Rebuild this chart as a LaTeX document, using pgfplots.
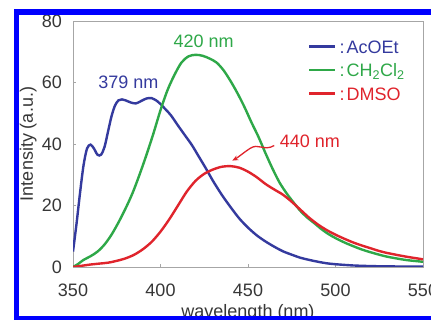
\documentclass[border=0pt]{standalone}
\usepackage{fontspec}
\setmainfont{Liberation Sans}
\usepackage{pgfplots}
\pgfplotsset{compat=1.18}
\usetikzlibrary{arrows.meta}
\definecolor{cblue}{RGB}{52,58,158}
\definecolor{cgreen}{RGB}{46,168,72}
\definecolor{cred}{RGB}{224,36,44}
\definecolor{frameblue}{RGB}{0,0,255}
\definecolor{tickgray}{RGB}{55,55,55}
\newcommand{\bigf}{\fontsize{18}{21}\selectfont}
\begin{document}
\begin{tikzpicture}[x=1pt,y=1pt]
\fill[white] (0,0) rectangle (431,320);
\useasboundingbox (0,0) rectangle (431,320);
\begin{axis}[
 at={(73pt,53pt)}, anchor=south west,
 scale only axis, width=350pt, height=246pt,
 xmin=350, xmax=550, ymin=0, ymax=80,
 xtick={350,400,...,550}, ytick={0,20,...,80},
 axis line style={draw=black!35, line width=0.8pt},
 tick style={draw=black!35, line width=0.6pt},
 major tick length=3pt,
 tick align=inside, tick pos=left,
 /pgf/number format/assume math mode=true,
 /pgf/number format/1000 sep={},
 ticklabel style={font=\bigf, text=tickgray, inner sep=0pt},
 xticklabel style={anchor=base, yshift=-30pt},
 yticklabel style={anchor=east, xshift=-11pt},
 xlabel={wavelength (nm)}, ylabel={Intensity (a.u.)},
 every axis x label/.style={at={(axis description cs:0.5,-0.2033)}, anchor=base, font=\bigf, text=tickgray},
 every axis y label/.style={at={(axis description cs:-0.1143,0.5)}, anchor=base, rotate=90, font=\bigf, text=tickgray},
 legend style={draw=none, fill=none, inner sep=0pt, at={(axis description cs:0.6714,0.8008)}, anchor=west, font=\bigf, row sep=10.5pt, nodes={inner sep=0pt, text height=13pt, text depth=0pt}, /tikz/every odd column/.style={column sep=3pt}},
 legend cell align=left,
 legend image code/.code={\draw[line width=2.4pt] (0pt,0pt) -- (26pt,0pt);},
]
\addplot[cblue, line width=2.4pt, smooth] coordinates {
(350,5) (352,14) (354,24) (356,33) (358,38.5) (360,39.8) (362,38.5) (364,36.5) (366,36.5) (368,39) (370,44) (372,49) (374,52.5) (376,54.2) (378,54.5) (380,54.2) (383,53.5) (386,53.2) (389,54) (392,54.8) (395,54.9) (398,54) (400,53) (403,51.2) (406,49.3) (410,46) (414,42.8) (418,39.6) (422,35.8) (426,32) (430,28) (435,23.5) (440,19.5) (445,15.8) (450,12.8) (455,10.3) (460,8.3) (465,6.6) (470,5.1) (475,4) (480,3) (485,2.3) (490,1.7) (495,1.2) (500,0.9) (510,0.5) (520,0.3) (530,0.2) (550,0.1)
};
\addlegendentry{\textcolor{cblue}{:\kern2pt AcOEt}}
\addplot[cgreen, line width=2.4pt, smooth] coordinates {
(350,0) (353,1) (356,2.3) (360,3.5) (364,5) (368,7.3) (372,10.5) (376,14.5) (380,19) (384,24) (388,30) (392,36.5) (396,43.5) (400,51) (404,57.5) (408,62.5) (412,66.5) (416,68.5) (420,69) (424,68.7) (428,67.8) (432,66.5) (436,64) (440,60.5) (444,56.5) (448,52) (452,47) (456,42.3) (460,37) (464,32) (468,27.5) (472,24) (476,21) (480,18.2) (484,16) (488,14.2) (492,12.3) (496,10.7) (500,9.4) (505,8) (510,6.8) (515,5.7) (520,4.8) (525,4) (530,3.3) (540,2.3) (550,1.7)
};
\addlegendentry{\textcolor{cgreen}{:\kern2pt CH\textsubscript{2}Cl\textsubscript{2}}}
\addplot[cred, line width=2.4pt, smooth] coordinates {
(350,0) (355,0.4) (360,0.8) (365,1.1) (370,1.4) (375,2) (380,2.8) (385,4) (390,5.8) (395,8.2) (400,11.5) (405,15.5) (410,20) (415,24.5) (420,28) (425,30.3) (430,31.7) (435,32.6) (440,32.8) (445,32.3) (450,31) (455,29.2) (460,27) (465,25.2) (470,23.5) (475,21.2) (480,18.6) (485,16) (490,13.8) (495,12) (500,10.5) (505,9.2) (510,8) (515,7) (520,6.1) (525,5.2) (530,4.5) (540,3.4) (550,2.5)
};
\addlegendentry{\textcolor{cred}{:\kern2pt DMSO}}
\node[text=cblue, font=\bigf] at (axis cs:381.7,60) {379 nm};
\node[text=cgreen, font=\bigf] at (axis cs:424.6,73.5) {420 nm};
\node[text=cred, font=\bigf] at (axis cs:485.4,41) {440 nm};
\draw[cred, line width=1.3pt, -{Stealth[length=6pt,width=5pt]}] (axis cs:465,39.5) .. controls (axis cs:459,37.5) and (axis cs:456,40.5) .. (axis cs:451,38.5) .. controls (axis cs:447,37) and (axis cs:444,35.5) .. (axis cs:441,34.6);
\end{axis}
\fill[frameblue] (14,0) rectangle (18.5,310.5);
\fill[frameblue] (14,305) rectangle (431,310.5);
\fill[frameblue] (14,0) rectangle (431,4);
\end{tikzpicture}
\end{document}
